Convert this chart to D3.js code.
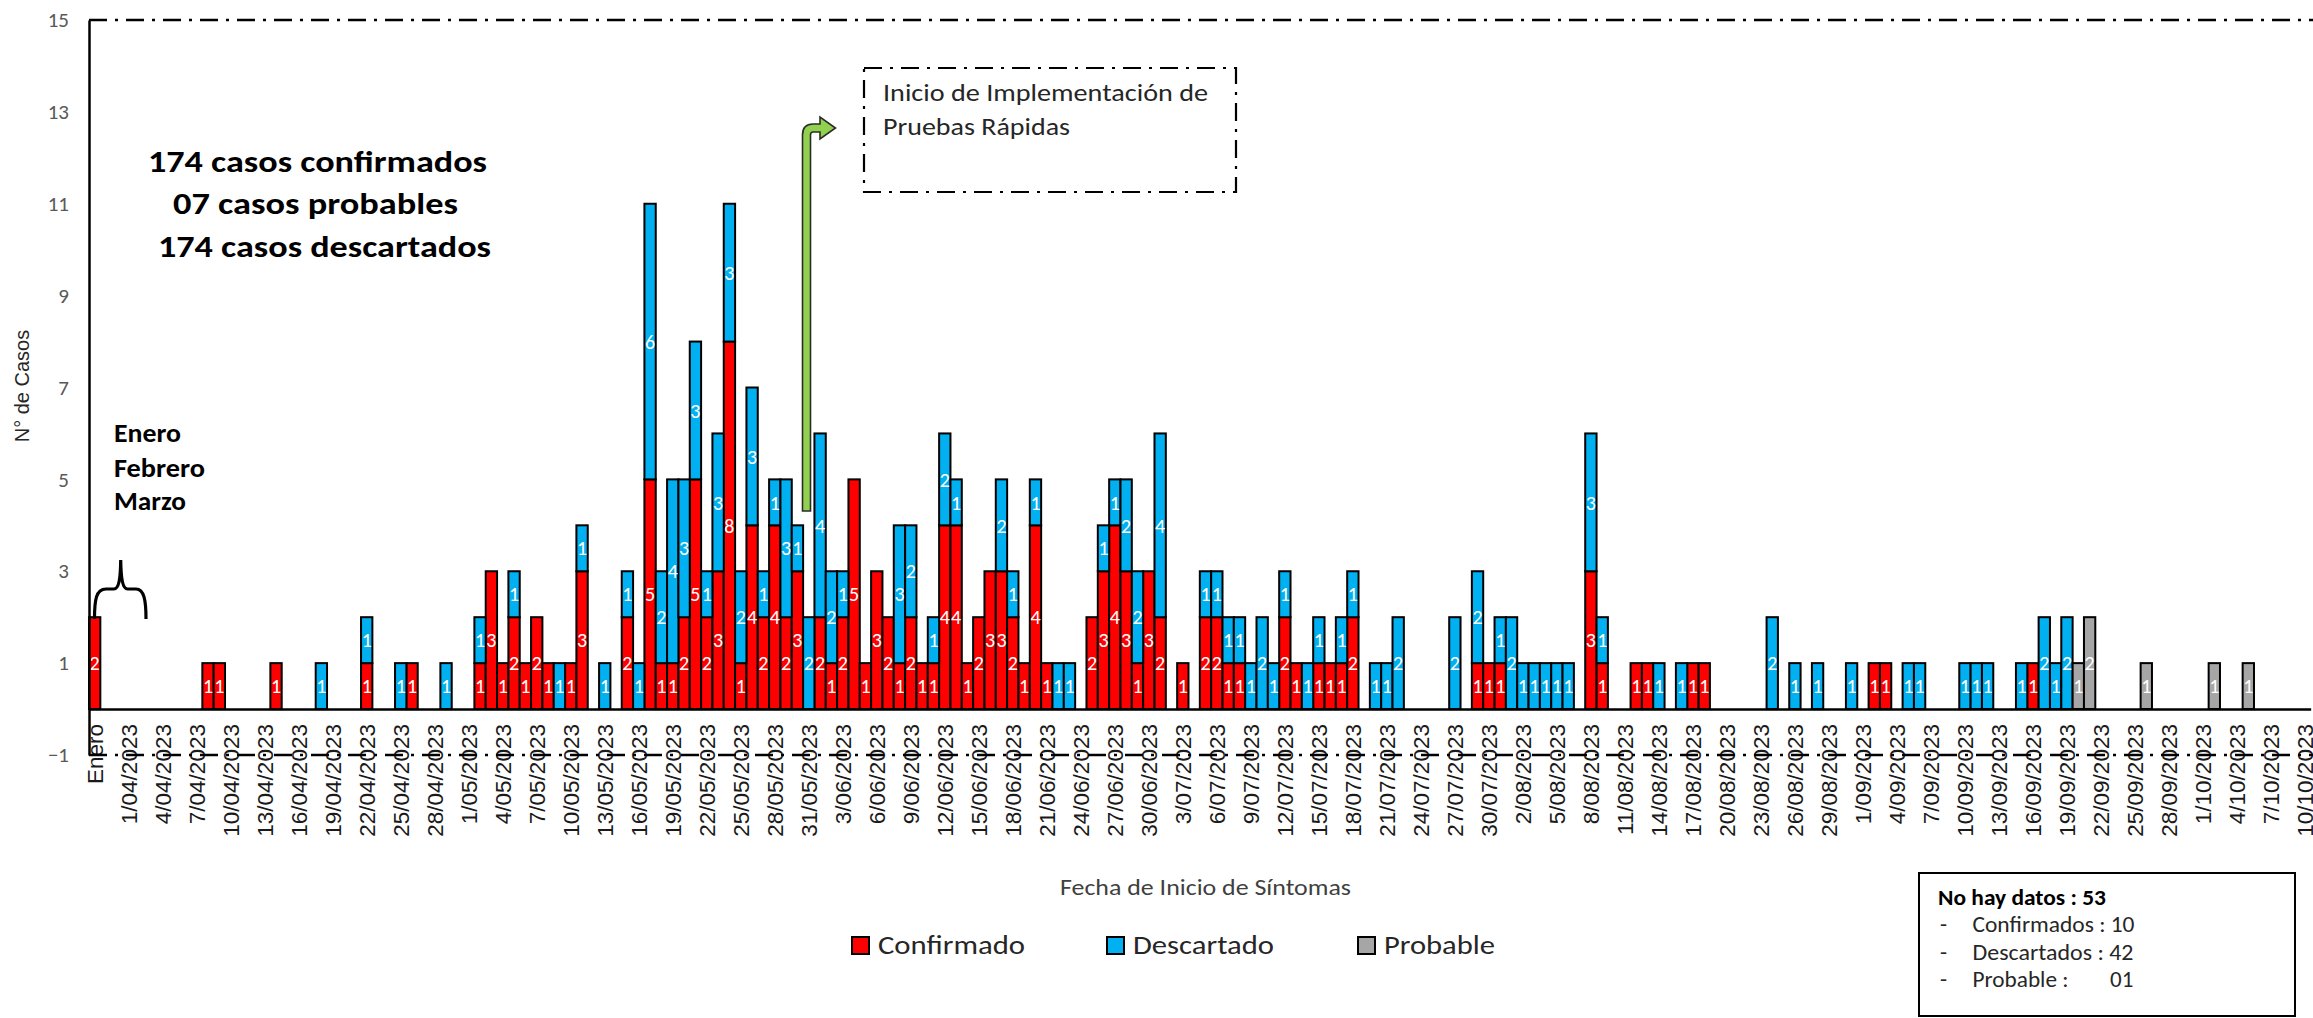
<!DOCTYPE html>
<html>
<head>
<meta charset="utf-8">
<script src="https://cdn.jsdelivr.net/npm/d3@7"></script>
<style>
  html, body { margin: 0; padding: 0; background: #fff; }
  svg { display: block; }
</style>
</head>
<body>
<svg id="chart" width="2313" height="1018"></svg>
<script>
// ---------------- DATA ----------------
// Categories: Enero, Febrero, Marzo, then each day 1/04/2023 .. 10/10/2023
const months = ["Enero", "Febrero", "Marzo"];
const dayFmt = d3.timeFormat("%-d/%m/%Y");
const days = d3.timeDay.range(new Date(2023, 3, 1), new Date(2023, 9, 11)).map(dayFmt);
const categories = months.concat(days);

// Confirmado (red)
const confirmado = [
  2, 0, 0,                                                        // Ene, Feb, Mar
  0,0,0,0,0,0,0,1,1,0, 0,0,0,1,0,0,0,0,0,0, 0,1,0,0,0,1,0,0,0,0,  // Abril
  0,1,3,1,2,1,2,1,0,1, 3,0,0,0,2,0,5,1,1,2, 5,2,3,8,1,4,2,4,2,3, 0, // Mayo
  2,1,2,5,1,3,2,1,2,1, 1,4,4,1,2,3,3,2,1,4, 1,0,0,0,2,3,4,3,1,3,  // Junio
  2,0,1,0,2,2,1,1,0,0, 0,2,1,0,1,1,1,2,0,0, 0,0,0,0,0,0,0,0,1,1, 1, // Julio
  0,0,0,0,0,0,0,3,1,0, 0,1,1,0,0,0,1,1,0,0, 0,0,0,0,0,0,0,0,0,0, 0, // Agosto
  0,1,1,0,0,0,0,0,0,0, 0,0,0,0,0,1,0,0,0,0, 0,0,0,0,0,0,0,0,0,0,  // Setiembre
  0,0,0,0,0,0,0,0,0,0                                             // Octubre
];
// Descartado (blue)
const descartado = [
  0, 0, 0,
  0,0,0,0,0,0,0,0,0,0, 0,0,0,0,0,0,0,1,0,0, 0,1,0,0,1,0,0,0,1,0,
  0,1,0,0,1,0,0,0,1,0, 1,0,1,0,1,1,6,2,4,3, 3,1,3,3,2,3,1,1,3,1, 2,
  4,2,1,0,0,0,0,3,2,0, 1,2,1,0,0,0,2,1,0,1, 0,1,1,0,0,1,1,2,2,0,
  4,0,0,0,1,1,1,1,1,2, 1,1,0,1,1,0,1,1,0,1, 1,2,0,0,0,0,2,0,2,0, 1,
  2,1,1,1,1,1,0,3,1,0, 0,0,0,1,0,1,0,0,0,0, 0,0,0,2,0,1,0,1,0,0, 1,
  0,0,0,0,1,1,0,0,0,1, 1,1,0,0,1,0,2,1,2,0, 0,0,0,0,0,0,0,0,0,0,
  0,0,0,0,0,0,0,0,0,0
];
// Probable (gray)
const probable = [
  0, 0, 0,
  0,0,0,0,0,0,0,0,0,0, 0,0,0,0,0,0,0,0,0,0, 0,0,0,0,0,0,0,0,0,0,
  0,0,0,0,0,0,0,0,0,0, 0,0,0,0,0,0,0,0,0,0, 0,0,0,0,0,0,0,0,0,0, 0,
  0,0,0,0,0,0,0,0,0,0, 0,0,0,0,0,0,0,0,0,0, 0,0,0,0,0,0,0,0,0,0,
  0,0,0,0,0,0,0,0,0,0, 0,0,0,0,0,0,0,0,0,0, 0,0,0,0,0,0,0,0,0,0, 0,
  0,0,0,0,0,0,0,0,0,0, 0,0,0,0,0,0,0,0,0,0, 0,0,0,0,0,0,0,0,0,0, 0,
  0,0,0,0,0,0,0,0,0,0, 0,0,0,0,0,0,0,0,0,1, 2,0,0,0,0,1,0,0,0,0,
  0,1,0,0,1,0,0,0,0,0
];
const seriesNames = ["Confirmado", "Descartado", "Probable"];
const seriesColors = ["#FF0000", "#00B0F0", "#A6A6A6"];
const yTickValues = [-1, 1, 3, 5, 7, 9, 11, 13, 15];
const summaryLines = ["174 casos confirmados", "07 casos probables", "174 casos descartados"];
const monthNote = ["Enero", "Febrero", "Marzo"];
const noDataTitle = "No hay datos : 53";
const noDataItems = [["Confirmados : 10", ""], ["Descartados : 42", ""], ["Probable :", "01"]];

// ---------------- CHART ----------------
const svg = d3.select("#chart");
const CAL = "Carlito, Lato, 'Liberation Sans', sans-serif";

const table = categories.map((c, i) => ({
  cat: c, Confirmado: confirmado[i], Descartado: descartado[i], Probable: probable[i]
}));

const step = 11.335;
const x = d3.scaleBand().domain(categories).range([89, 89 + categories.length * step]).padding(0);
const y = d3.scaleLinear().domain([-1, 15]).range([755, 20]);
const color = d3.scaleOrdinal().domain(seriesNames).range(seriesColors);

const stack = d3.stack().keys(seriesNames)(table);

// Bars
const layers = svg.append("g").attr("class", "bars")
  .selectAll("g").data(stack).join("g").attr("fill", d => color(d.key));
layers.selectAll("rect")
  .data(d => d.filter(s => s[1] > s[0]))
  .join("rect")
  .attr("x", d => x(d.data.cat))
  .attr("y", d => y(d[1]))
  .attr("width", x.bandwidth())
  .attr("height", d => y(d[0]) - y(d[1]))
  .attr("stroke", "#000").attr("stroke-width", 2);

// Segment labels
const labelsG = svg.append("g").attr("class", "seglabels");
stack.forEach(layer => {
  labelsG.selectAll(null)
    .data(layer.filter(s => s[1] > s[0]))
    .join("text")
    .attr("x", d => x(d.data.cat) + x.bandwidth() / 2)
    .attr("y", d => (y(d[0]) + y(d[1])) / 2)
    .attr("dy", "0.36em")
    .attr("text-anchor", "middle")
    .attr("fill", "#fff")
    .style("font-family", "'Liberation Sans Narrow', " + CAL)
    .style("font-size", "20px")
    .text(d => d[1] - d[0]);
});

// X axis (at value 0)
const xAxis = d3.axisBottom(x)
  .tickValues(categories.filter((c, i) => i % 3 === 0))
  .tickSize(0).tickSizeOuter(0);
const gx = svg.append("g").attr("transform", `translate(0,${y(0)})`).call(xAxis);
gx.select(".domain").attr("stroke", "#000").attr("stroke-width", 2.5);
gx.selectAll("text")
  .attr("transform", "rotate(-90)")
  .attr("x", -15).attr("y", 0).attr("dy", "0.35em")
  .attr("text-anchor", "end")
  .attr("fill", "#1a1a1a")
  .style("font-family", "'Liberation Sans', Arial, sans-serif")
  .style("font-size", "22.5px");

// Y axis
const yAxis = d3.axisLeft(y).tickValues(yTickValues).tickSize(0).tickSizeOuter(0).tickPadding(20);
const gy = svg.append("g").attr("transform", "translate(89,0)").call(yAxis);
gy.select(".domain").attr("stroke", "#000").attr("stroke-width", 2.5);
gy.selectAll("text").attr("fill", "#595959").style("font-family", CAL).style("font-size", "21px");

// Dash-dot frame lines (top and bottom)
const dash = "18,8,3,8";
[20, 755].forEach(yy => {
  svg.append("line").attr("x1", 89).attr("x2", 2313).attr("y1", yy).attr("y2", yy)
    .attr("stroke", "#000").attr("stroke-width", 2.5).attr("stroke-dasharray", dash);
});

// Axis titles
svg.append("text")
  .attr("transform", "translate(29,386) rotate(-90)")
  .attr("text-anchor", "middle")
  .attr("fill", "#262626")
  .style("font-family", "'Liberation Sans', Arial, sans-serif")
  .style("font-size", "20px")
  .text("N° de Casos");

svg.append("text")
  .attr("x", 1060).attr("y", 895)
  .attr("textLength", 291).attr("lengthAdjust", "spacingAndGlyphs")
  .attr("fill", "#404040")
  .style("font-family", CAL).style("font-size", "23px")
  .text("Fecha de Inicio de Síntomas");

// Summary text
const sumX = [148, 173, 158], sumW = [339, 285, 333], sumY = [172, 214, 257];
summaryLines.forEach((t, i) => {
  svg.append("text").attr("x", sumX[i]).attr("y", sumY[i])
    .attr("textLength", sumW[i]).attr("lengthAdjust", "spacingAndGlyphs")
    .attr("fill", "#000").style("font-family", CAL).style("font-weight", "bold")
    .style("font-size", "30px").text(t);
});

// Month note
const mW = [67, 91, 72], mY = [442, 477, 510];
monthNote.forEach((t, i) => {
  svg.append("text").attr("x", 114).attr("y", mY[i])
    .attr("textLength", mW[i]).attr("lengthAdjust", "spacingAndGlyphs")
    .attr("fill", "#000").style("font-family", CAL).style("font-weight", "bold")
    .style("font-size", "26px").text(t);
});

// Brace
svg.append("path")
  .attr("d", "M94.5,619 C94.5,600 96,589 106,589 L114,589 C118.5,589 120.5,580 120.7,560 C121,580 123,589 127.5,589 L136,589 C144,589 146,600 146,619")
  .attr("fill", "none").attr("stroke", "#000").attr("stroke-width", 3.2);

// Annotation box
svg.append("rect").attr("x", 864).attr("y", 68).attr("width", 372).attr("height", 124)
  .attr("fill", "none").attr("stroke", "#000").attr("stroke-width", 2.2)
  .attr("stroke-dasharray", dash);
svg.append("text").attr("x", 883).attr("y", 101)
  .attr("textLength", 325).attr("lengthAdjust", "spacingAndGlyphs")
  .attr("fill", "#262626").style("font-family", CAL).style("font-size", "24px")
  .text("Inicio de Implementación de");
svg.append("text").attr("x", 883).attr("y", 135)
  .attr("textLength", 187).attr("lengthAdjust", "spacingAndGlyphs")
  .attr("fill", "#262626").style("font-family", CAL).style("font-size", "24px")
  .text("Pruebas Rápidas");

// Green bent arrow
svg.append("path")
  .attr("d", "M802.5,511 L802.5,135 C802.5,128 806,124 813,124 L820,124 L820,117 L835.5,128 L820,139 L820,132 L813,132 C811.5,132 810.5,133 810.5,135 L810.5,511 Z")
  .attr("fill", "#92D050").attr("stroke", "#2b2b2b").attr("stroke-width", 1.6);

// Legend
const legX = [852, 1107, 1358], legW = [147, 141, 111];
seriesNames.forEach((n, i) => {
  svg.append("rect").attr("x", legX[i]).attr("y", 937).attr("width", 17).attr("height", 17)
    .attr("fill", color(n)).attr("stroke", "#000").attr("stroke-width", 2);
  svg.append("text").attr("x", legX[i] + 26).attr("y", 954)
    .attr("textLength", legW[i]).attr("lengthAdjust", "spacingAndGlyphs")
    .attr("fill", "#262626").style("font-family", CAL).style("font-size", "26px").text(n);
});

// "No hay datos" box
svg.append("rect").attr("x", 1919).attr("y", 873).attr("width", 376).attr("height", 143)
  .attr("fill", "none").attr("stroke", "#000").attr("stroke-width", 2);
svg.append("text").attr("x", 1938).attr("y", 905)
  .attr("textLength", 168).attr("lengthAdjust", "spacingAndGlyphs")
  .attr("fill", "#000").style("font-family", CAL).style("font-weight", "bold").style("font-size", "23px")
  .text(noDataTitle);
const ndY = [932, 960, 987], ndW = [162, 161, 96];
noDataItems.forEach((it, i) => {
  svg.append("text").attr("x", 1940).attr("y", ndY[i]).attr("fill", "#262626")
    .style("font-family", CAL).style("font-size", "23px").text("-");
  svg.append("text").attr("x", 1972.5).attr("y", ndY[i])
    .attr("textLength", ndW[i]).attr("lengthAdjust", "spacingAndGlyphs")
    .attr("fill", "#262626").style("font-family", CAL).style("font-size", "23px").text(it[0]);
  if (it[1]) {
    svg.append("text").attr("x", 2110).attr("y", ndY[i]).attr("fill", "#262626")
      .style("font-family", CAL).style("font-size", "23px").text(it[1]);
  }
});
</script>
</body>
</html>
